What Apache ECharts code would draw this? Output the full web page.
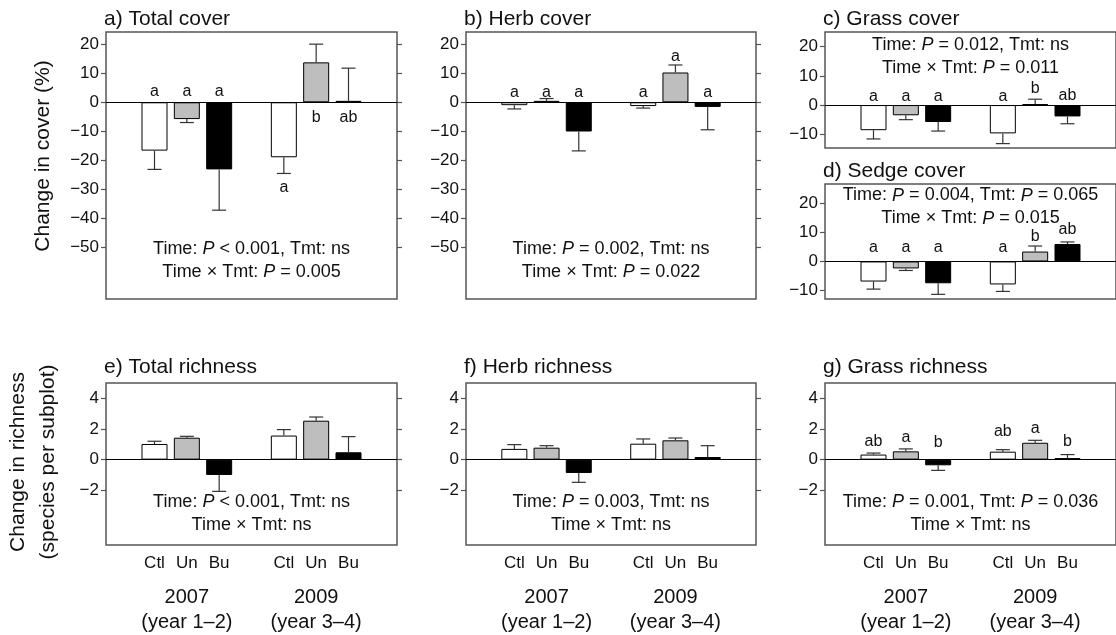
<!DOCTYPE html>
<html>
<head>
<meta charset="utf-8">
<script src="https://cdn.jsdelivr.net/npm/echarts@6/dist/echarts.min.js"></script>
<style>
  html, body { margin: 0; padding: 0; background: #fff; }
  #chart { width: 1116px; height: 635px; }
</style>
</head>
<body>
<div id="chart"></div>
<script>
const treatments = ['Ctl', 'Un', 'Bu']
const years = ['2007\n(year 1–2)', '2009\n(year 3–4)']

// order in every array: 2007 Ctl, Un, Bu, 2009 Ctl, Un, Bu
const totalCover = [-16.7, -5.8, -23.2, -19.0, 13.8, 0.5]
const totalCoverSE = [6.5, 1.2, 14.1, 5.6, 6.3, 11.3]
const totalCoverLetters = ['a', 'a', 'a', 'a', 'b', 'ab']
const totalCoverLetterY = [3.7, 3.7, 3.7, -29.4, -5.2, -5.2]

const herbCover = [-1.0, 0.5, -10.1, -1.3, 10.3, -1.6]
const herbCoverSE = [1.3, 0.8, 6.7, 0.7, 2.6, 7.9]
const herbCoverLetters = ['a', 'a', 'a', 'a', 'a', 'a']
const herbCoverLetterY = [3.4, 3.4, 3.4, 3.4, 15.7, 3.4]

const grassCover = [-8.6, -3.5, -5.8, -9.7, 0.3, -3.9]
const grassCoverSE = [3.0, 1.5, 3.1, 3.5, 1.7, 2.5]
const grassCoverLetters = ['a', 'a', 'a', 'a', 'b', 'ab']
const grassCoverLetterY = [3.0, 3.0, 3.0, 3.0, 5.8, 3.3]

const sedgeCover = [-6.9, -2.4, -7.5, -7.9, 3.4, 6.0]
const sedgeCoverSE = [2.6, 0.7, 3.8, 2.4, 1.9, 0.7]
const sedgeCoverLetters = ['a', 'a', 'a', 'a', 'b', 'ab']
const sedgeCoverLetterY = [4.6, 4.6, 4.6, 4.6, 8.6, 10.9]

const totalRichness = [1.02, 1.43, -1.0, 1.57, 2.54, 0.48]
const totalRichnessSE = [0.18, 0.09, 1.07, 0.39, 0.24, 1.02]

const herbRichness = [0.70, 0.78, -0.87, 1.04, 1.26, 0.17]
const herbRichnessSE = [0.28, 0.13, 0.61, 0.31, 0.15, 0.74]

const grassRichness = [0.33, 0.54, -0.37, 0.52, 1.10, 0.10]
const grassRichnessSE = [0.10, 0.16, 0.33, 0.13, 0.16, 0.23]
const grassRichnessLetters = ['ab', 'a', 'b', 'ab', 'a', 'b']
const grassRichnessLetterY = [1.2, 1.41, 1.09, 1.85, 2.0, 1.2]

const coverTicks = [20, 10, 0, -10, -20, -30, -40, -50]
const smallCoverTicks = [20, 10, 0, -10]
const richnessTicks = [4, 2, 0, -2]

const stats = {
  a: 'Time: {i|P} < 0.001, Tmt: ns\nTime × Tmt: {i|P} = 0.005',
  b: 'Time: {i|P} = 0.002, Tmt: ns\nTime × Tmt: {i|P} = 0.022',
  c: 'Time: {i|P} = 0.012, Tmt: ns\nTime × Tmt: {i|P} = 0.011',
  d: 'Time: {i|P} = 0.004, Tmt: {i|P} = 0.065\nTime × Tmt: {i|P} = 0.015',
  e: 'Time: {i|P} < 0.001, Tmt: ns\nTime × Tmt: ns',
  f: 'Time: {i|P} = 0.003, Tmt: ns\nTime × Tmt: ns',
  g: 'Time: {i|P} = 0.001, Tmt: {i|P} = 0.036\nTime × Tmt: ns'
}

const FONT = '"Liberation Sans", Arial, Helvetica, sans-serif'
const fills = ['#ffffff', '#bebebe', '#000000']
const barSlots = [1, 2, 3, 5, 6, 7]
const slots = ['', ...treatments, '', ...treatments, '']
const yearSlots = ['', '', years[0], '', '', '', years[1], '', '']

const panels = [
  { id: 'a', title: 'a) Total cover', left: 106, top: 32, width: 291, height: 267, min: -68, max: 24.3,
    ticks: coverTicks, values: totalCover, se: totalCoverSE, letters: totalCoverLetters, letterY: totalCoverLetterY, statsY: -54.6 },
  { id: 'b', title: 'b) Herb cover', left: 466, top: 32, width: 290, height: 267, min: -68, max: 24.3,
    ticks: coverTicks, values: herbCover, se: herbCoverSE, letters: herbCoverLetters, letterY: herbCoverLetterY, statsY: -54.6 },
  { id: 'c', title: 'c) Grass cover', left: 825, top: 32, width: 291, height: 116, min: -14.7, max: 25,
    ticks: smallCoverTicks, values: grassCover, se: grassCoverSE, letters: grassCoverLetters, letterY: grassCoverLetterY, statsY: 16.6 },
  { id: 'd', title: 'd) Sedge cover', left: 825, top: 184, width: 291, height: 115, min: -12.9, max: 26.6,
    ticks: smallCoverTicks, values: sedgeCover, se: sedgeCoverSE, letters: sedgeCoverLetters, letterY: sedgeCoverLetterY, statsY: 18.7 },
  { id: 'e', title: 'e) Total richness', left: 106, top: 383, width: 291, height: 162, min: -5.57, max: 5,
    ticks: richnessTicks, values: totalRichness, se: totalRichnessSE, statsY: -3.52, bottom: true },
  { id: 'f', title: 'f) Herb richness', left: 466, top: 383, width: 290, height: 162, min: -5.57, max: 5,
    ticks: richnessTicks, values: herbRichness, se: herbRichnessSE, statsY: -3.52, bottom: true },
  { id: 'g', title: 'g) Grass richness', left: 825, top: 383, width: 291, height: 162, min: -5.57, max: 5,
    ticks: richnessTicks, values: grassRichness, se: grassRichnessSE, letters: grassRichnessLetters, letterY: grassRichnessLetterY, statsY: -3.52, bottom: true }
]

const grid = []
const xAxis = []
const yAxis = []
const series = []
const graphic = []

panels.forEach((p, i) => {
  grid.push({
    left: p.left, top: p.top, width: p.width, height: p.height,
    show: true, borderColor: '#555', borderWidth: 1.5, backgroundColor: 'transparent',
    outerBoundsMode: 'none'
  })

  const xIdx = xAxis.length
  xAxis.push({
    type: 'category', gridIndex: i, data: slots, position: 'bottom',
    axisLine: { show: false }, axisTick: { show: false }, splitLine: { show: false },
    axisLabel: { show: !!p.bottom, interval: 0, fontSize: 17, color: '#111', margin: 10, fontFamily: FONT }
  })
  if (p.bottom) {
    xAxis.push({
      type: 'category', gridIndex: i, data: yearSlots, position: 'bottom',
      axisLine: { show: false }, axisTick: { show: false }, splitLine: { show: false },
      axisLabel: { interval: 0, fontSize: 20, lineHeight: 25, color: '#111', margin: 40, fontFamily: FONT }
    })
  }

  const yIdx = yAxis.length
  const yBase = {
    type: 'value', gridIndex: i, min: p.min, max: p.max,
    axisLine: { show: false }, splitLine: { show: false },
    axisTick: { show: true, length: 5, customValues: p.ticks, lineStyle: { color: '#555', width: 1.2 } }
  }
  yAxis.push({
    ...yBase, position: 'left',
    axisLabel: {
      customValues: p.ticks, fontSize: 17, color: '#111', margin: 7, fontFamily: FONT,
      formatter: v => String(v).replace('-', '\u2212')
    }
  })
  yAxis.push({ ...yBase, position: 'right', axisLabel: { show: false } })

  const barData = slots.map(() => '-')
  const errData = []
  p.values.forEach((v, k) => {
    barData[barSlots[k]] = { value: v, itemStyle: { color: fills[k % 3] } }
    errData.push([barSlots[k], v, p.se[k]])
  })

  series.push({
    type: 'bar', xAxisIndex: xIdx, yAxisIndex: yIdx, barWidth: 26, data: barData,
    itemStyle: { borderColor: '#000', borderWidth: 1 },
    markLine: {
      silent: true, symbol: ['none', 'none'], label: { show: false },
      lineStyle: { color: '#000', width: 1, type: 'solid' },
      data: [{ yAxis: 0 }]
    }
  })

  series.push({
    type: 'custom', xAxisIndex: xIdx, yAxisIndex: yIdx, data: errData,
    encode: { x: 0, y: 1 }, z: 3,
    renderItem: (params, api) => {
      const x = api.value(0)
      const v = api.value(1)
      const se = api.value(2)
      const end = v + (v < 0 ? -se : se)
      const p0 = api.coord([x, v])
      const p1 = api.coord([x, end])
      const st = { stroke: '#333', lineWidth: 1.2 }
      return {
        type: 'group', children: [
          { type: 'line', shape: { x1: p0[0], y1: p0[1], x2: p1[0], y2: p1[1] }, style: st },
          { type: 'line', shape: { x1: p1[0] - 7, y1: p1[1], x2: p1[0] + 7, y2: p1[1] }, style: st }
        ]
      }
    }
  })

  if (p.letters) {
    const letters = p.letters
    series.push({
      type: 'custom', xAxisIndex: xIdx, yAxisIndex: yIdx,
      data: p.letterY.map((y, k) => [barSlots[k], y]),
      encode: { x: 0, y: 1 }, z: 4,
      renderItem: (params, api) => {
        const pt = api.coord([api.value(0), api.value(1)])
        return {
          type: 'text', x: pt[0], y: pt[1],
          style: { text: letters[params.dataIndex], fill: '#111', fontSize: 16, fontFamily: FONT, align: 'center', verticalAlign: 'middle' }
        }
      }
    })
  }

  const txt = stats[p.id]
  series.push({
    type: 'custom', xAxisIndex: xIdx, yAxisIndex: yIdx,
    data: [[4, p.statsY]], encode: { x: 0, y: 1 }, z: 4,
    renderItem: (params, api) => {
      const pt = api.coord([api.value(0), api.value(1)])
      return {
        type: 'text', x: pt[0], y: pt[1],
        style: {
          text: txt, fill: '#111', fontSize: 18, lineHeight: 23, fontFamily: FONT,
          align: 'center', verticalAlign: 'middle',
          rich: { i: { fontStyle: 'italic', fontSize: 18, lineHeight: 23, fontFamily: FONT, fill: '#111' } }
        }
      }
    }
  })

  graphic.push({
    type: 'text', x: p.left - 2, y: p.top - (p.bottom ? 16 : 13),
    style: { text: p.title, fill: '#111', fontSize: 21, fontFamily: FONT, align: 'left', verticalAlign: 'middle' }
  })
})

graphic.push({
  type: 'text', x: 43, y: 156, rotation: Math.PI / 2,
  style: { text: 'Change in cover (%)', fill: '#111', fontSize: 21, fontFamily: FONT, align: 'center', verticalAlign: 'middle' }
})
graphic.push({
  type: 'text', x: 33, y: 462, rotation: Math.PI / 2,
  style: { text: 'Change in richness\n(species per subplot)', fill: '#111', fontSize: 21, lineHeight: 30, fontFamily: FONT, align: 'center', verticalAlign: 'middle' }
})

const chart = echarts.init(document.getElementById('chart'))
chart.setOption({
  animation: false,
  backgroundColor: '#fff',
  grid, xAxis, yAxis, series, graphic
})
</script>
</body>
</html>
